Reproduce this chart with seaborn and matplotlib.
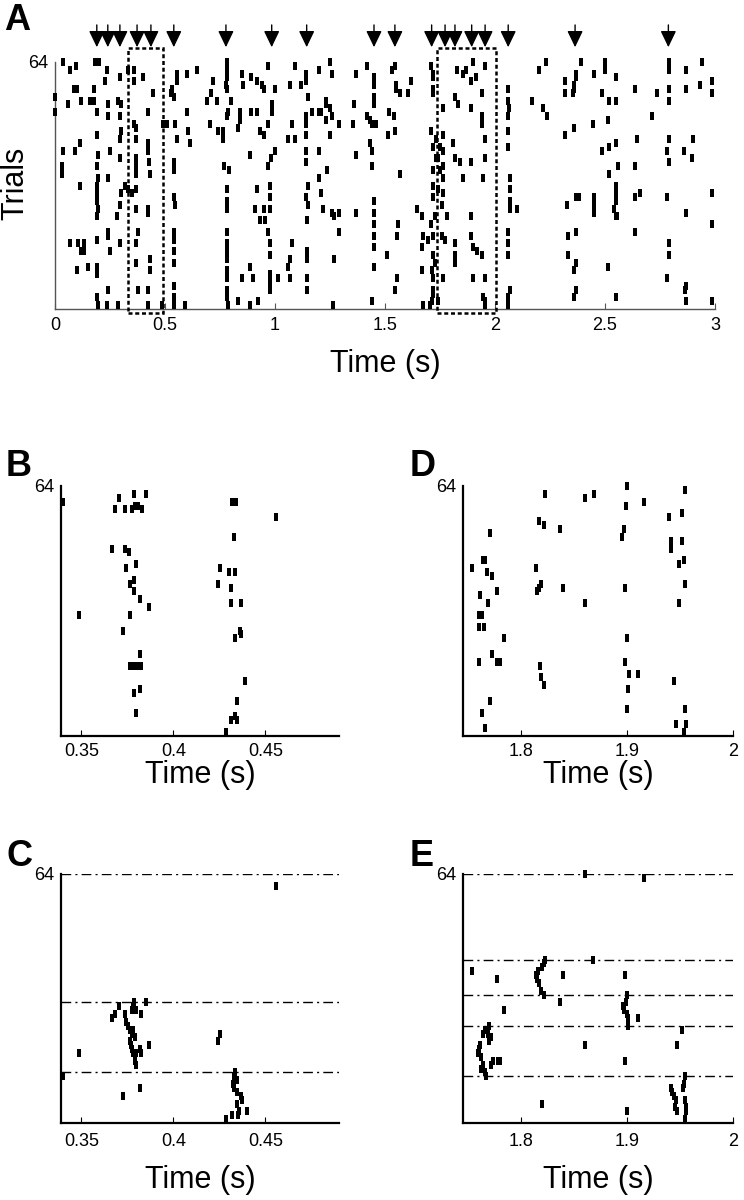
import matplotlib
matplotlib.use('Agg')
import pandas as pd
import matplotlib.pyplot as plt
import matplotlib.transforms as mtransforms
from matplotlib.markers import MarkerStyle
from matplotlib.patches import Rectangle
import seaborn as sns

# spike rasters: (time in s, trial number)
a_spikes = [
    (0.038, 64), (0.068, 62), (0.095, 63), (0.18, 64), (0.20, 64), (0.235, 62), (0.295, 60), (0.33, 62),
    (0.36, 62), (0.36, 59), (0.40, 60), (0.553, 61), (0.553, 59), (0.60, 61), (0.644, 62), (0.227, 59),
    (0.72, 59), (0.0, 55), (0.0, 51), (0.085, 57), (0.10, 57), (0.06, 53), (0.12, 54), (0.16, 54),
    (0.175, 54), (0.175, 57), (0.19, 51), (0.243, 53), (0.243, 50), (0.288, 54), (0.30, 53), (0.447, 56),
    (0.525, 56), (0.53, 57), (0.54, 55), (0.69, 54), (0.71, 56), (0.735, 54), (0.295, 50), (0.424, 51),
    (0.49, 48), (0.51, 48), (0.545, 48), (0.60, 51), (0.705, 48), (0.74, 46), (0.36, 48), (0.37, 47),
    (0.30, 46), (0.19, 45), (0.605, 46), (0.295, 44), (0.37, 44), (0.424, 43), (0.424, 41), (0.553, 44),
    (0.614, 43), (0.114, 43), (0.09, 41), (0.038, 41), (0.25, 41), (0.197, 40), (0.295, 39), (0.37, 39),
    (0.37, 37), (0.37, 35), (0.425, 38), (0.43, 35), (0.54, 38), (0.54, 36), (0.03, 37), (0.03, 35),
    (0.19, 37), (0.197, 34), (0.243, 34), (0.114, 32), (0.19, 32), (0.19, 30), (0.318, 32), (0.333, 31),
    (0.35, 30), (0.30, 30), (0.37, 31), (0.19, 28), (0.197, 26), (0.295, 27), (0.37, 26), (0.424, 26),
    (0.424, 25), (0.54, 29), (0.545, 27), (0.19, 24), (0.28, 24), (0.24, 20), (0.24, 19), (0.378, 20),
    (0.54, 20), (0.54, 18), (0.54, 15), (0.19, 18), (0.068, 17), (0.106, 17), (0.13, 17), (0.12, 15),
    (0.13, 15), (0.25, 15), (0.295, 17), (0.37, 17), (0.43, 13), (0.37, 12), (0.15, 11), (0.19, 11),
    (0.19, 9), (0.098, 10), (0.43, 10), (0.54, 12), (0.243, 5), (0.378, 5), (0.424, 5), (0.54, 6),
    (0.54, 3), (0.19, 3), (0.235, 1), (0.288, 1), (0.197, 1), (0.424, 1), (0.485, 1), (0.54, 1), (0.59, 1),
    (0.78, 64), (0.78, 62), (0.97, 63), (1.09, 63), (1.14, 61), (1.14, 59), (1.2, 62), (1.25, 64),
    (1.26, 61), (1.42, 63), (1.37, 61), (1.45, 60), (1.45, 58), (0.85, 61), (0.78, 60), (0.775, 58),
    (0.78, 57), (0.89, 60), (0.92, 59), (0.94, 58), (0.95, 57), (0.856, 58), (1.0, 57), (1.07, 58),
    (1.12, 58), (0.8, 54), (1.15, 55), (0.985, 53), (0.985, 51), (0.97, 48), (1.23, 54), (1.23, 53),
    (1.36, 53), (1.45, 55), (1.45, 53), (0.78, 50), (0.785, 51), (0.84, 51), (0.84, 49), (0.89, 51),
    (0.92, 51), (1.17, 51), (1.2, 51), (1.21, 51), (1.23, 49), (1.25, 52), (1.26, 50), (1.14, 50),
    (1.14, 48), (1.42, 50), (1.43, 49), (1.44, 48), (1.46, 48), (1.29, 48), (1.355, 48), (0.765, 46),
    (0.765, 44), (0.83, 47), (0.93, 46), (0.95, 45), (1.076, 48), (1.06, 44), (1.09, 44), (1.14, 45),
    (1.25, 45), (1.43, 43), (1.44, 41), (1.0, 41), (0.98, 39), (0.97, 37), (0.886, 40), (1.14, 41),
    (1.14, 38), (1.2, 41), (1.37, 40), (1.44, 37), (0.77, 37), (0.79, 36), (1.235, 36), (1.2, 34),
    (0.78, 31), (0.78, 28), (0.78, 26), (0.92, 31), (0.977, 32), (0.977, 29), (0.977, 26), (1.15, 32),
    (1.14, 29), (1.15, 27), (1.21, 30), (0.91, 26), (0.95, 26), (1.22, 26), (1.26, 25), (1.27, 24),
    (1.29, 25), (1.37, 25), (1.45, 28), (1.45, 25), (1.45, 22), (0.93, 23), (0.955, 23), (1.144, 23),
    (0.78, 20), (0.78, 17), (0.78, 15), (0.97, 20), (0.977, 17), (0.977, 14), (1.076, 17), (1.29, 20),
    (1.45, 19), (1.45, 16), (1.144, 15), (1.144, 13), (1.068, 13), (1.06, 11), (1.27, 13), (0.78, 13),
    (0.78, 10), (0.78, 8), (1.45, 11), (0.85, 8), (0.886, 11), (0.9, 8), (0.977, 9), (0.977, 7),
    (0.977, 5), (1.015, 8), (1.068, 8), (1.144, 8), (1.144, 5), (0.78, 5), (0.78, 3), (0.785, 1),
    (0.83, 2), (0.886, 1), (0.924, 2), (1.265, 1), (1.44, 2),
    (1.53, 62), (1.545, 63), (1.71, 63), (1.72, 61), (1.72, 60), (1.825, 62), (1.855, 61), (1.87, 62),
    (1.90, 64), (1.955, 63), (2.2, 62), (2.23, 64), (1.62, 59), (1.55, 58), (1.55, 57), (1.57, 56),
    (1.605, 56), (1.72, 57), (1.72, 56), (1.893, 59), (1.915, 60), (1.94, 56), (2.06, 57), (2.06, 54),
    (2.065, 52), (1.82, 55), (1.83, 53), (1.893, 52), (1.765, 52), (2.17, 54), (2.22, 52), (2.235, 50),
    (1.52, 51), (1.54, 50), (1.94, 50), (1.94, 48), (2.06, 50), (1.515, 45), (1.545, 46), (1.71, 46),
    (1.73, 44), (1.765, 45), (1.955, 44), (2.06, 46), (2.06, 42), (1.72, 42), (1.75, 42), (1.765, 41),
    (1.81, 43), (1.73, 39), (1.74, 39), (1.765, 37), (1.82, 39), (1.84, 38), (1.893, 38), (1.955, 39),
    (1.72, 36), (1.75, 36), (1.568, 35), (1.765, 34), (1.855, 34), (1.947, 34), (2.068, 34), (2.068, 31),
    (2.068, 28), (2.068, 26), (1.72, 32), (1.74, 31), (1.72, 29), (1.765, 30), (1.757, 27), (2.098, 26),
    (1.644, 26), (1.667, 24), (1.727, 24), (1.78, 24), (1.893, 24), (1.56, 22), (1.553, 19), (1.71, 22),
    (1.72, 19), (1.697, 18), (1.667, 16), (1.674, 19), (1.757, 19), (1.772, 18), (1.818, 17), (1.893, 19),
    (1.90, 16), (1.917, 15), (2.06, 20), (2.06, 17), (1.507, 14), (1.72, 14), (1.727, 12), (1.818, 14),
    (1.82, 12), (1.94, 14), (2.06, 14), (1.667, 10), (1.712, 10), (1.72, 8), (1.765, 8), (1.90, 8),
    (1.955, 8), (1.553, 8), (1.545, 5), (1.72, 5), (1.72, 4), (1.712, 2), (1.947, 3), (1.955, 2),
    (1.955, 1), (2.07, 5), (2.06, 3), (2.06, 1), (1.674, 1), (1.704, 1), (1.74, 2),
    (2.39, 64), (2.5, 64), (2.5, 62), (2.79, 64), (2.79, 63), (2.79, 62), (2.94, 64), (2.87, 62),
    (2.37, 61), (2.37, 60), (2.36, 58), (2.36, 57), (2.45, 61), (2.32, 59), (2.32, 56), (2.355, 56),
    (2.55, 60), (2.485, 56), (2.52, 54), (2.55, 54), (2.636, 57), (2.735, 56), (2.79, 57), (2.79, 54),
    (2.87, 57), (2.93, 58), (2.985, 59), (2.985, 56), (2.515, 49), (2.712, 50), (2.36, 47), (2.318, 45),
    (2.447, 48), (2.645, 44), (2.79, 44), (2.9, 44), (2.485, 41), (2.52, 42), (2.55, 43), (2.78, 41),
    (2.86, 41), (2.894, 39), (2.79, 38), (2.56, 37), (2.636, 37), (2.52, 35), (2.55, 32), (2.55, 30),
    (2.55, 28), (2.54, 26), (2.55, 24), (2.555, 24), (2.326, 27), (2.37, 29), (2.38, 29), (2.45, 29),
    (2.45, 27), (2.45, 25), (2.636, 29), (2.66, 30), (2.78, 29), (2.985, 30), (2.87, 25), (2.985, 22),
    (2.37, 20), (2.33, 19), (2.636, 20), (2.79, 17), (2.79, 14), (2.33, 14), (2.37, 12), (2.36, 10),
    (2.515, 11), (2.78, 8), (2.37, 5), (2.36, 3), (2.55, 3), (2.87, 6), (2.865, 5), (2.87, 2), (2.985, 2),
]

b_spikes = [
    (0.340, 60), (0.3705, 61), (0.3787, 62), (0.385, 62), (0.3686, 58), (0.3736, 58), (0.3776, 58),
    (0.379, 59), (0.381, 59), (0.383, 58), (0.432, 60), (0.434, 60), (0.4558, 56), (0.4327, 51),
    (0.3667, 48), (0.3736, 48), (0.3758, 47), (0.3796, 44), (0.3745, 43), (0.4255, 43), (0.4305, 42),
    (0.4336, 42), (0.3787, 40), (0.3767, 39), (0.4244, 39), (0.4315, 38), (0.3787, 37), (0.3818, 35),
    (0.4315, 34), (0.4365, 34), (0.3869, 33), (0.349, 31), (0.3767, 31), (0.3725, 27), (0.436, 27),
    (0.4365, 26), (0.4336, 25), (0.3818, 21), (0.3767, 18), (0.3785, 18), (0.3804, 18), (0.3827, 18),
    (0.4387, 14), (0.3818, 12), (0.3787, 11), (0.4345, 9), (0.3796, 6), (0.4315, 4), (0.4336, 5),
    (0.4345, 4), (0.4285, 1),
]

c_spikes = [
    (0.4558, 61), (0.340, 12), (0.349, 18), (0.3704, 30), (0.3686, 28), (0.3667, 27), (0.3725, 7),
    (0.3818, 9), (0.385, 31), (0.3869, 20), (0.3787, 31), (0.3780, 30), (0.3776, 29), (0.3797, 29),
    (0.3825, 28), (0.3736, 28), (0.3745, 26), (0.3755, 25), (0.3765, 24), (0.3773, 23), (0.3782, 24),
    (0.3790, 22), (0.3767, 21), (0.3770, 20), (0.3773, 19), (0.3782, 18), (0.3800, 18), (0.3818, 19),
    (0.3827, 18), (0.3790, 16), (0.3800, 15), (0.4245, 21), (0.4255, 23), (0.4336, 13), (0.4330, 12),
    (0.4345, 11), (0.4325, 10), (0.4327, 9), (0.4345, 8), (0.4365, 7), (0.4374, 6), (0.4345, 5),
    (0.4356, 3), (0.4398, 3), (0.4351, 2), (0.4320, 2), (0.4285, 1),
]

d_spikes = [
    (1.8227, 62), (1.8605, 61), (1.8683, 62), (1.9, 64), (1.899, 59), (1.916, 60), (1.955, 63),
    (1.9518, 57), (1.94, 56), (1.8164, 55), (1.8214, 54), (1.8362, 53), (1.897, 53), (1.8954, 51),
    (1.7707, 52), (1.9417, 50), (1.9417, 48), (1.9518, 50), (1.7638, 45), (1.766, 45), (1.7534, 43),
    (1.7676, 42), (1.7723, 41), (1.8135, 43), (1.9537, 45), (1.9487, 44), (1.819, 39), (1.8164, 38),
    (1.8151, 37), (1.8394, 38), (1.8983, 38), (1.955, 39), (1.7606, 36), (1.7773, 37), (1.7685, 34),
    (1.8605, 34), (1.9487, 34), (1.7597, 31), (1.7628, 31), (1.7597, 28), (1.7647, 28), (1.7836, 25),
    (1.9, 25), (1.7723, 21), (1.7597, 19), (1.777, 19), (1.7795, 19), (1.8173, 18), (1.8183, 15),
    (1.8214, 13), (1.8983, 19), (1.9014, 16), (1.91, 16), (1.9442, 14), (1.9008, 12), (1.7707, 9),
    (1.9, 7), (1.955, 7), (1.7628, 6), (1.9465, 3), (1.9559, 3), (1.9537, 1), (1.766, 2),
]

e_spikes = [
    (1.8598, 64), (1.9159, 63), (1.8677, 42), (1.7537, 39), (1.7773, 37), (1.8394, 38), (1.8983, 38),
    (1.8227, 42), (1.8214, 41), (1.8195, 40), (1.8157, 39), (1.8142, 38), (1.8151, 37), (1.8164, 36),
    (1.8183, 34), (1.8214, 33), (1.8362, 31), (1.7836, 29), (1.9, 33), (1.899, 31), (1.8961, 30),
    (1.897, 29), (1.9, 28), (1.9013, 27), (1.9013, 25), (1.9102, 27), (1.9523, 24), (1.8598, 20),
    (1.9474, 20), (1.8983, 16), (1.770, 25), (1.766, 24), (1.7638, 23), (1.7685, 23), (1.7717, 22),
    (1.7691, 21), (1.7606, 20), (1.7597, 19), (1.759, 18), (1.7616, 17), (1.7732, 16), (1.7638, 15),
    (1.7717, 15), (1.778, 16), (1.7795, 16), (1.7622, 14), (1.7654, 13), (1.7669, 12), (1.8195, 5),
    (1.9, 3), (1.955, 12), (1.9537, 10), (1.9528, 9), (1.9411, 9), (1.9424, 8), (1.9443, 7),
    (1.955, 6), (1.9465, 6), (1.9455, 4), (1.9559, 4), (1.9474, 3), (1.9559, 3), (1.9543, 1),
]

arrow_times = [0.19, 0.24, 0.295, 0.373, 0.436, 0.54, 0.777, 0.985, 1.144, 1.45, 1.545,
               1.712, 1.773, 1.818, 1.894, 1.955, 2.06, 2.364, 2.788]
box_spans = [(0.333, 0.49), (1.735, 2.006)]
c_group_lines = [64, 31, 13]
e_group_lines = [64, 42, 33, 25, 12]

a_ticks = [0, 0.5, 1, 1.5, 2, 2.5, 3]
a_ticklabels = ['0', '0.5', '1', '1.5', '2', '2.5', '3']
bc_ticks = [0.35, 0.4, 0.45]
bc_ticklabels = ['0.35', '0.4', '0.45']
de_ticks = [1.8, 1.9, 2.0]
de_ticklabels = ['1.8', '1.9', '2']

sns.set_style('ticks')
plt.rcParams['font.family'] = ['Liberation Sans', 'DejaVu Sans']
plt.rcParams['text.color'] = 'black'
plt.rcParams['axes.labelcolor'] = 'black'
plt.rcParams['xtick.labelcolor'] = 'black'
plt.rcParams['ytick.labelcolor'] = 'black'

W, H = 744, 1200
fig = plt.figure(figsize=(W / 100, H / 100), dpi=100)


def px_axes(left, top, right, bottom):
    return fig.add_axes([left / W, 1 - bottom / H, (right - left) / W, (bottom - top) / H])


# tall thin tick mark for each spike
def spike_marker(half_w):
    return MarkerStyle([(-half_w, -1), (half_w, -1), (half_w, 1), (-half_w, 1), (-half_w, -1)])


def raster(ax, spikes, xlim, ticks, ticklabels, spine_color, spine_lw, label_y, tick_pad,
           size, half_w):
    df = pd.DataFrame(spikes, columns=['time', 'trial'])
    sns.scatterplot(data=df, x='time', y='trial', marker=spike_marker(half_w), s=size,
                    color='black', linewidth=0, ax=ax, legend=False, clip_on=False, zorder=3)
    ax.set_xlim(*xlim)
    ax.set_ylim(0, 64)
    ax.set_yticks([64])
    ax.set_yticklabels(['64'])
    ax.set_xticks(ticks)
    ax.set_xticklabels(ticklabels)
    sns.despine(ax=ax)
    for side in ['left', 'bottom']:
        ax.spines[side].set_color(spine_color)
        ax.spines[side].set_linewidth(spine_lw)
    ax.tick_params(axis='y', length=0, pad=5, labelsize=13)
    ax.tick_params(axis='x', direction='in', length=4, width=0.8, color=spine_color,
                   labelsize=13, pad=tick_pad)
    ax.set_ylabel('')
    ax.set_xlabel('Time (s)', fontsize=22)
    ax.xaxis.set_label_coords(0.5, label_y)


ax_a = px_axes(55, 62, 715, 309)
ax_b = px_axes(61, 486, 339, 736)
ax_c = px_axes(61, 874, 339, 1123)
ax_d = px_axes(463, 486, 733, 736)
ax_e = px_axes(463, 874, 733, 1123)

raster(ax_a, a_spikes, (0, 3), a_ticks, a_ticklabels, '#555555', 1.0, -0.16, 6, 34, 0.45)
raster(ax_b, b_spikes, (0.339, 0.49), bc_ticks, bc_ticklabels, 'black', 1.6, -0.098, 5, 40, 0.55)
raster(ax_c, c_spikes, (0.339, 0.49), bc_ticks, bc_ticklabels, 'black', 1.6, -0.17, 7, 40, 0.55)
raster(ax_d, d_spikes, (1.745, 2.0), de_ticks, de_ticklabels, 'black', 1.6, -0.098, 5, 40, 0.55)
raster(ax_e, e_spikes, (1.745, 2.0), de_ticks, de_ticklabels, 'black', 1.6, -0.17, 7, 40, 0.55)

# stimulus arrows above panel A
trans_a = mtransforms.blended_transform_factory(ax_a.transData, ax_a.transAxes)
for t in arrow_times:
    ax_a.annotate('', xy=(t, 1.06), xytext=(t, 1.15), xycoords=trans_a, textcoords=trans_a,
                  arrowprops=dict(arrowstyle='-|>,head_length=0.5,head_width=0.24', color='black',
                                  lw=1, mutation_scale=20, shrinkA=0, shrinkB=0))

# dashed boxes marking the zoomed windows
for x0, x1 in box_spans:
    ax_a.add_patch(Rectangle((x0, -0.016), x1 - x0, 1.073, transform=trans_a, fill=False,
                             edgecolor='black', lw=1.8, linestyle=(0, (1.6, 1.1)), clip_on=False,
                             zorder=4))

# group boundaries in the re-ordered rasters
for ax, levels in [(ax_c, c_group_lines), (ax_e, e_group_lines)]:
    for lev in levels:
        ax.axhline(lev, color='black', lw=1.0, linestyle=(0, (7, 3, 1.5, 3)), zorder=2)

fig.text(15 / W, 1 - 183 / H, 'Trials', rotation=90, ha='center', va='center', fontsize=22)

for letter, x, y in [('A', 4, 30), ('B', 6, 476), ('C', 6, 866), ('D', 410, 476), ('E', 410, 866)]:
    fig.text(x / W, 1 - y / H, letter, fontsize=26, fontweight='bold', ha='left', va='baseline')

fig.savefig('out.png', dpi=100)
